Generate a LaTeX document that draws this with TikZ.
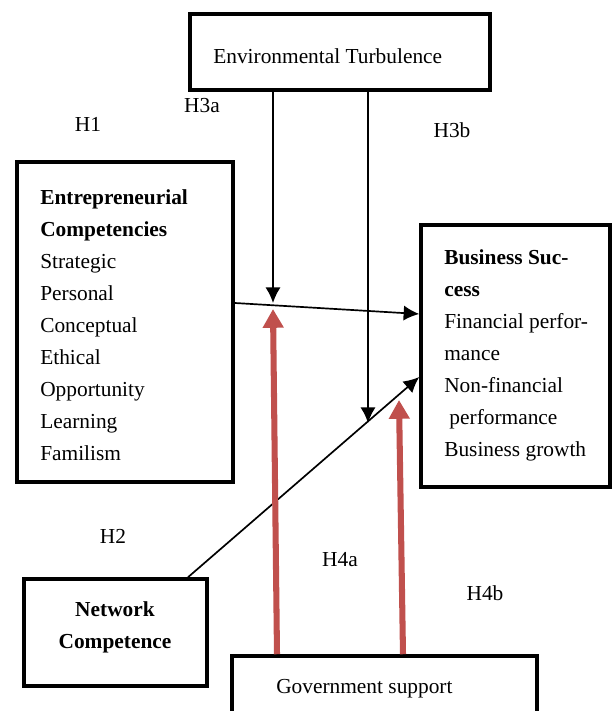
\documentclass[tikz,border=0pt]{standalone}
\usepackage{fontspec}
\setmainfont{Liberation Serif}
\usetikzlibrary{arrows.meta}
\definecolor{supportred}{HTML}{C0504D}

\tikzset{
  box/.style={draw, line width=2.5pt, inner sep=0pt},
  txt/.style={font=\fontsize{15.2}{22.8}\selectfont, inner sep=0pt},
  hyp/.style={->, line width=1.2pt},
  support/.style={-{Triangle[length=0.47cm,width=0.5cm]}, line width=4.3pt, supportred},
}

\begin{document}
\begin{tikzpicture}[>={Latex[length=0.39cm,width=0.38cm]}]
\useasboundingbox (0,0) rectangle (15.325,17.775);
% boxes
\node[box, minimum width=7.5cm, minimum height=1.9cm] (env) at (8.5,16.475) {};
\node[box, minimum width=5.4cm, minimum height=8cm] (ec) at (3.125,9.725) {};
\node[box, minimum width=4.725cm, minimum height=6.55cm] (bs) at (12.8875,8.875) {};
\node[box, minimum width=4.575cm, minimum height=2.675cm] (nc) at (2.8875,1.9625) {};
\node[box, minimum width=7.625cm, minimum height=3cm] (gov) at (9.6125,-0.125) {};
% box texts
\node[txt, anchor=west] (envtext) at (5.325,16.375) {Environmental Turbulence};
\node[txt, anchor=north west, align=left] (ectext) at (1.0,13.05) {\textbf{Entrepreneurial}\\\textbf{Competencies}\\Strategic\\Personal\\Conceptual\\Ethical\\Opportunity\\Learning\\Familism};
\node[txt, anchor=north west, align=left] (bstext) at (11.1,11.55) {\textbf{Business Suc-}\\\textbf{cess}\\Financial perfor-\\mance\\Non-financial\\\hspace*{0.13cm}performance\\Business growth};
\node[txt, align=center, font=\fontsize{15.2}{22.8}\selectfont\bfseries] (nctext) at (2.875,2.1) {Network\\Competence};
\node[txt, anchor=west] (govtext) at (6.9,0.55) {Government support};
% hypotheses
\node[txt] (H1) at (2.2,14.675) {H1};
\node[txt] (H2) at (2.825,4.375) {H2};
\node[txt] (H3a) at (5.05,15.125) {H3a};
\node[txt] (H3b) at (11.3,14.525) {H3b};
\node[txt] (H4a) at (8.5,3.775) {H4a};
\node[txt] (H4b) at (12.125,2.95) {H4b};
% arrows
\coordinate (h3a) at (6.825,10.2);
\coordinate (h3b) at (9.2,7.2);
\coordinate (h4a) at (6.825,10.05);
\coordinate (h4b) at (9.975,7.775);
\draw[hyp] (env.south -| h3a) -- (h3a);
\draw[hyp] (env.south -| h3b) -- (h3b);
\draw[hyp] ([yshift=0.475cm]ec.east) -- ([yshift=1.05cm]bs.west);
\draw[hyp] ([xshift=1.8125cm]nc.north) -- ([yshift=-0.525cm]bs.west);
\draw[support] ([xshift=-2.6875cm]gov.north) -- (h4a);
\draw[support] ([xshift=0.4625cm]gov.north) -- (h4b);
\end{tikzpicture}
\end{document}
